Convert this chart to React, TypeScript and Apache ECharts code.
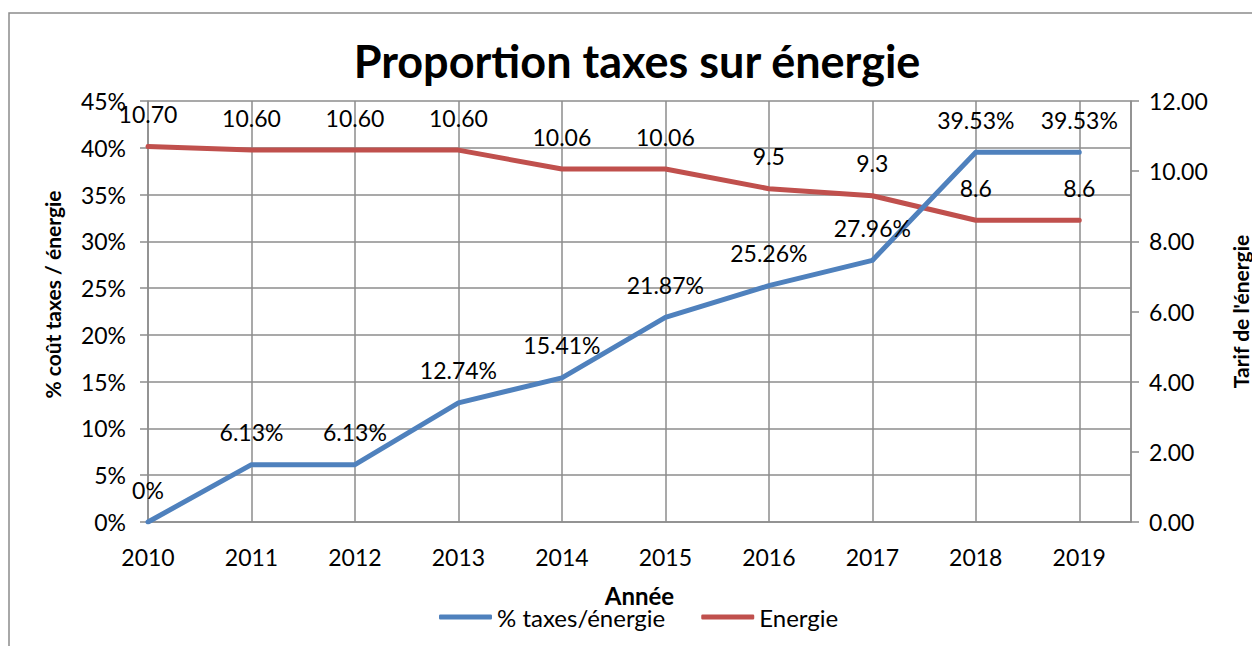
import React, { useEffect, useRef } from "react";
import * as echarts from "echarts";

const years = [2010, 2011, 2012, 2013, 2014, 2015, 2016, 2017, 2018, 2019];
const taxShare = [0, 6.13, 6.13, 12.74, 15.41, 21.87, 25.26, 27.96, 39.53, 39.53];
const taxLabels = ["0%", "6.13%", "6.13%", "12.74%", "15.41%", "21.87%", "25.26%", "27.96%", "39.53%", "39.53%"];
const energy = [10.7, 10.6, 10.6, 10.6, 10.06, 10.06, 9.5, 9.3, 8.6, 8.6];
const energyLabels = ["10.70", "10.60", "10.60", "10.60", "10.06", "10.06", "9.5", "9.3", "8.6", "8.6"];
const seriesNames = ["% taxes/énergie", "Energie"];
const titleText = "Proportion taxes sur énergie";
const xName = "Année";
const yLeftName = "% coût taxes / énergie";
const yRightName = "Tarif de l'énergie";

const FONT = "Lato";
const GRID = "#8c8c8c";

export default function App() {
  const ref = useRef<HTMLDivElement>(null);
  useEffect(() => {
    if (!ref.current) return;
    const chart = echarts.init(ref.current, null, { renderer: "svg" });
    const lowLabelIdx = [1, 2];
    const option: any = {
      animation: false,
      backgroundColor: "#fff",
      textStyle: { fontFamily: FONT, color: "#000" },
      title: {
        text: titleText,
        left: 637,
        top: 38,
        padding: 0,
        textAlign: "center",
        textStyle: { fontFamily: FONT, fontWeight: "bold", fontSize: 45, color: "#000" },
      },
      graphic: [
        {
          type: "rect",
          shape: { x: 9, y: 13, width: 1400, height: 800 },
          style: { fill: "none", stroke: "#8c8c8c", lineWidth: 1.5 },
          silent: true,
        },
      ],
      legend: {
        left: 439,
        top: 605,
        padding: 0,
        itemGap: 36,
        itemWidth: 53,
        itemHeight: 5,
        icon: "roundRect",
        textStyle: { fontFamily: FONT, fontSize: 24, color: "#000", padding: [0, 0, 0, 0] },
        data: seriesNames,
      },
      grid: {
        left: 148,
        right: 121,
        top: 101,
        bottom: 124,
        containLabel: false,
        outerBoundsMode: "none",
      },
      xAxis: {
        type: "value",
        min: 2010,
        max: 2019.5,
        interval: 1,
        name: xName,
        nameLocation: "middle",
        nameGap: 61,
        nameTextStyle: { fontFamily: FONT, fontWeight: "bold", fontSize: 24, color: "#000" },
        axisLine: { show: true, lineStyle: { color: GRID, width: 1.5 } },
        axisTick: { show: false },
        axisLabel: {
          margin: 23,
          fontFamily: FONT,
          fontSize: 23,
          color: "#000",
          formatter: (v: number) => (Number.isInteger(v) ? String(v) : ""),
        },
        splitLine: { show: true, lineStyle: { color: GRID, width: 1.5 } },
      },
      yAxis: [
        {
          type: "value",
          min: 0,
          max: 45,
          interval: 5,
          position: "left",
          name: yLeftName,
          nameLocation: "middle",
          nameGap: 85,
          nameTextStyle: {
            fontFamily: FONT,
            fontWeight: "bold",
            fontSize: 21,
            color: "#000",
            padding: [0, 0, 0, 34],
          },
          axisLine: { show: true, lineStyle: { color: GRID, width: 1.5 } },
          axisTick: { show: true, inside: false, length: 8, lineStyle: { color: GRID, width: 1.5 } },
          axisLabel: { margin: 22, fontFamily: FONT, fontSize: 23, color: "#000", formatter: "{value}%" },
          splitLine: { show: true, lineStyle: { color: GRID, width: 1.5 } },
        },
        {
          type: "value",
          min: 0,
          max: 12,
          interval: 2,
          position: "right",
          name: yRightName,
          nameLocation: "middle",
          nameGap: 99,
          nameTextStyle: { fontFamily: FONT, fontWeight: "bold", fontSize: 21, color: "#000" },
          axisLine: { show: true, lineStyle: { color: GRID, width: 1.5 } },
          axisTick: { show: true, inside: false, length: 8, lineStyle: { color: GRID, width: 1.5 } },
          axisLabel: {
            margin: 18,
            fontFamily: FONT,
            fontSize: 23,
            color: "#000",
            formatter: (v: number) => v.toFixed(2),
          },
          splitLine: { show: false },
        },
      ],
      series: [
        {
          name: seriesNames[0],
          type: "line",
          yAxisIndex: 0,
          symbol: "circle",
          symbolSize: 2,
          showSymbol: true,
          lineStyle: { color: "#4F81BD", width: 5, cap: "round", join: "round" },
          itemStyle: { color: "#4F81BD" },
          data: years.map((y, i) => {
            const item: any = { value: [y, taxShare[i]] };
            if (lowLabelIdx.includes(i)) item.label = { offset: [0, 29] };
            return item;
          }),
          label: {
            show: true,
            position: "top",
            distance: 20,
            fontFamily: FONT,
            fontSize: 23,
            color: "#000",
            formatter: (p: any) => taxLabels[p.dataIndex],
          },
          labelLayout: { hideOverlap: false },
          z: 3,
        },
        {
          name: seriesNames[1],
          type: "line",
          yAxisIndex: 1,
          symbol: "circle",
          symbolSize: 2,
          showSymbol: true,
          lineStyle: { color: "#C0504D", width: 5, cap: "round", join: "round" },
          itemStyle: { color: "#C0504D" },
          data: years.map((y, i) => [y, energy[i]]),
          label: {
            show: true,
            position: "top",
            distance: 20,
            fontFamily: FONT,
            fontSize: 23,
            color: "#000",
            formatter: (p: any) => energyLabels[p.dataIndex],
          },
          labelLayout: { hideOverlap: false },
          z: 2,
        },
      ],
    };
    chart.setOption(option);
    return () => chart.dispose();
  }, []);
  return (
    <div
      ref={ref}
      style={{ position: "fixed", left: 0, top: 0, width: 1252, height: 646, background: "#fff" }}
    />
  );
}
